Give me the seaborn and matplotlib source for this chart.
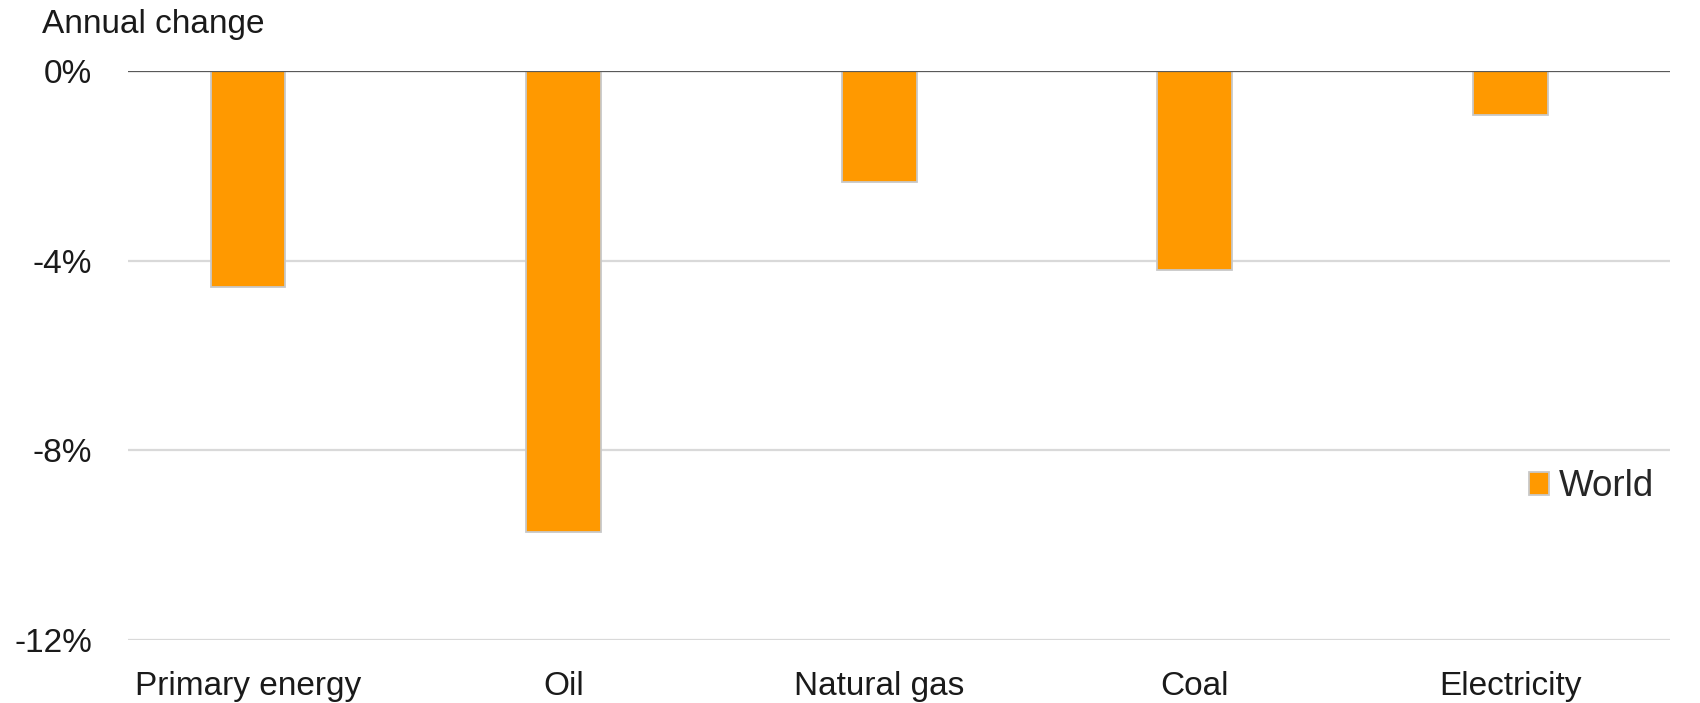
import matplotlib
matplotlib.use('Agg')
import matplotlib.pyplot as plt
import pandas as pd
import seaborn as sns

# values (annual change, %)
categories = ['Primary energy', 'Oil', 'Natural gas', 'Coal', 'Electricity']
world_change = [-4.55, -9.72, -2.35, -4.2, -0.92]
series_name = 'World'
y_ticks = [0, -4, -8, -12]
y_tick_labels = ['0%', '-4%', '-8%', '-12%']

df = pd.DataFrame({'category': categories, 'change': world_change, 'series': series_name})

sns.set_theme(style='white')
plt.rcParams['font.family'] = ['Liberation Sans', 'DejaVu Sans']

W, H = 1700, 703
ax_l, ax_r, ax_t, ax_b = 128, 1670, 71, 640

fig = plt.figure(figsize=(W / 100, H / 100), dpi=100)
ax = fig.add_axes([ax_l / W, 1 - ax_b / H, (ax_r - ax_l) / W, (ax_b - ax_t) / H])

sns.barplot(data=df, x='category', y='change', hue='series', dodge=False,
            palette=['#FF9900'], width=0.237, edgecolor='#C8C8C8', linewidth=1.3,
            saturation=1, ax=ax, zorder=3)

ax.set_ylim(-12, 0)
ax.set_xlim(-0.38, 4.506)
ax.set_yticks(y_ticks)
ax.set_yticklabels(y_tick_labels)
ax.yaxis.grid(True, color='#D9D9D9', linewidth=1.6, zorder=0)
ax.axhline(0, color='#595959', linewidth=1.6, zorder=4)
for s in ax.spines.values():
    s.set_visible(False)
ax.tick_params(axis='both', length=0, labelsize=24, colors='#1a1a1a')
ax.tick_params(axis='y', pad=26)
ax.tick_params(axis='x', pad=22)
ax.set_xlabel('')
ax.set_ylabel('')

fig.text(42 / W, 1 - 24 / H, 'Annual change', fontsize=24, color='#1a1a1a',
         va='center', ha='left')

leg = ax.legend(loc='center left',
                bbox_to_anchor=((1529 - ax_l) / (ax_r - ax_l), (ax_b - 487) / (ax_b - ax_t)),
                frameon=False, fontsize=26.5, handlelength=0.55, handleheight=0.55,
                handletextpad=0.25, borderpad=0, borderaxespad=0)

fig.savefig('out.png', dpi=100)
